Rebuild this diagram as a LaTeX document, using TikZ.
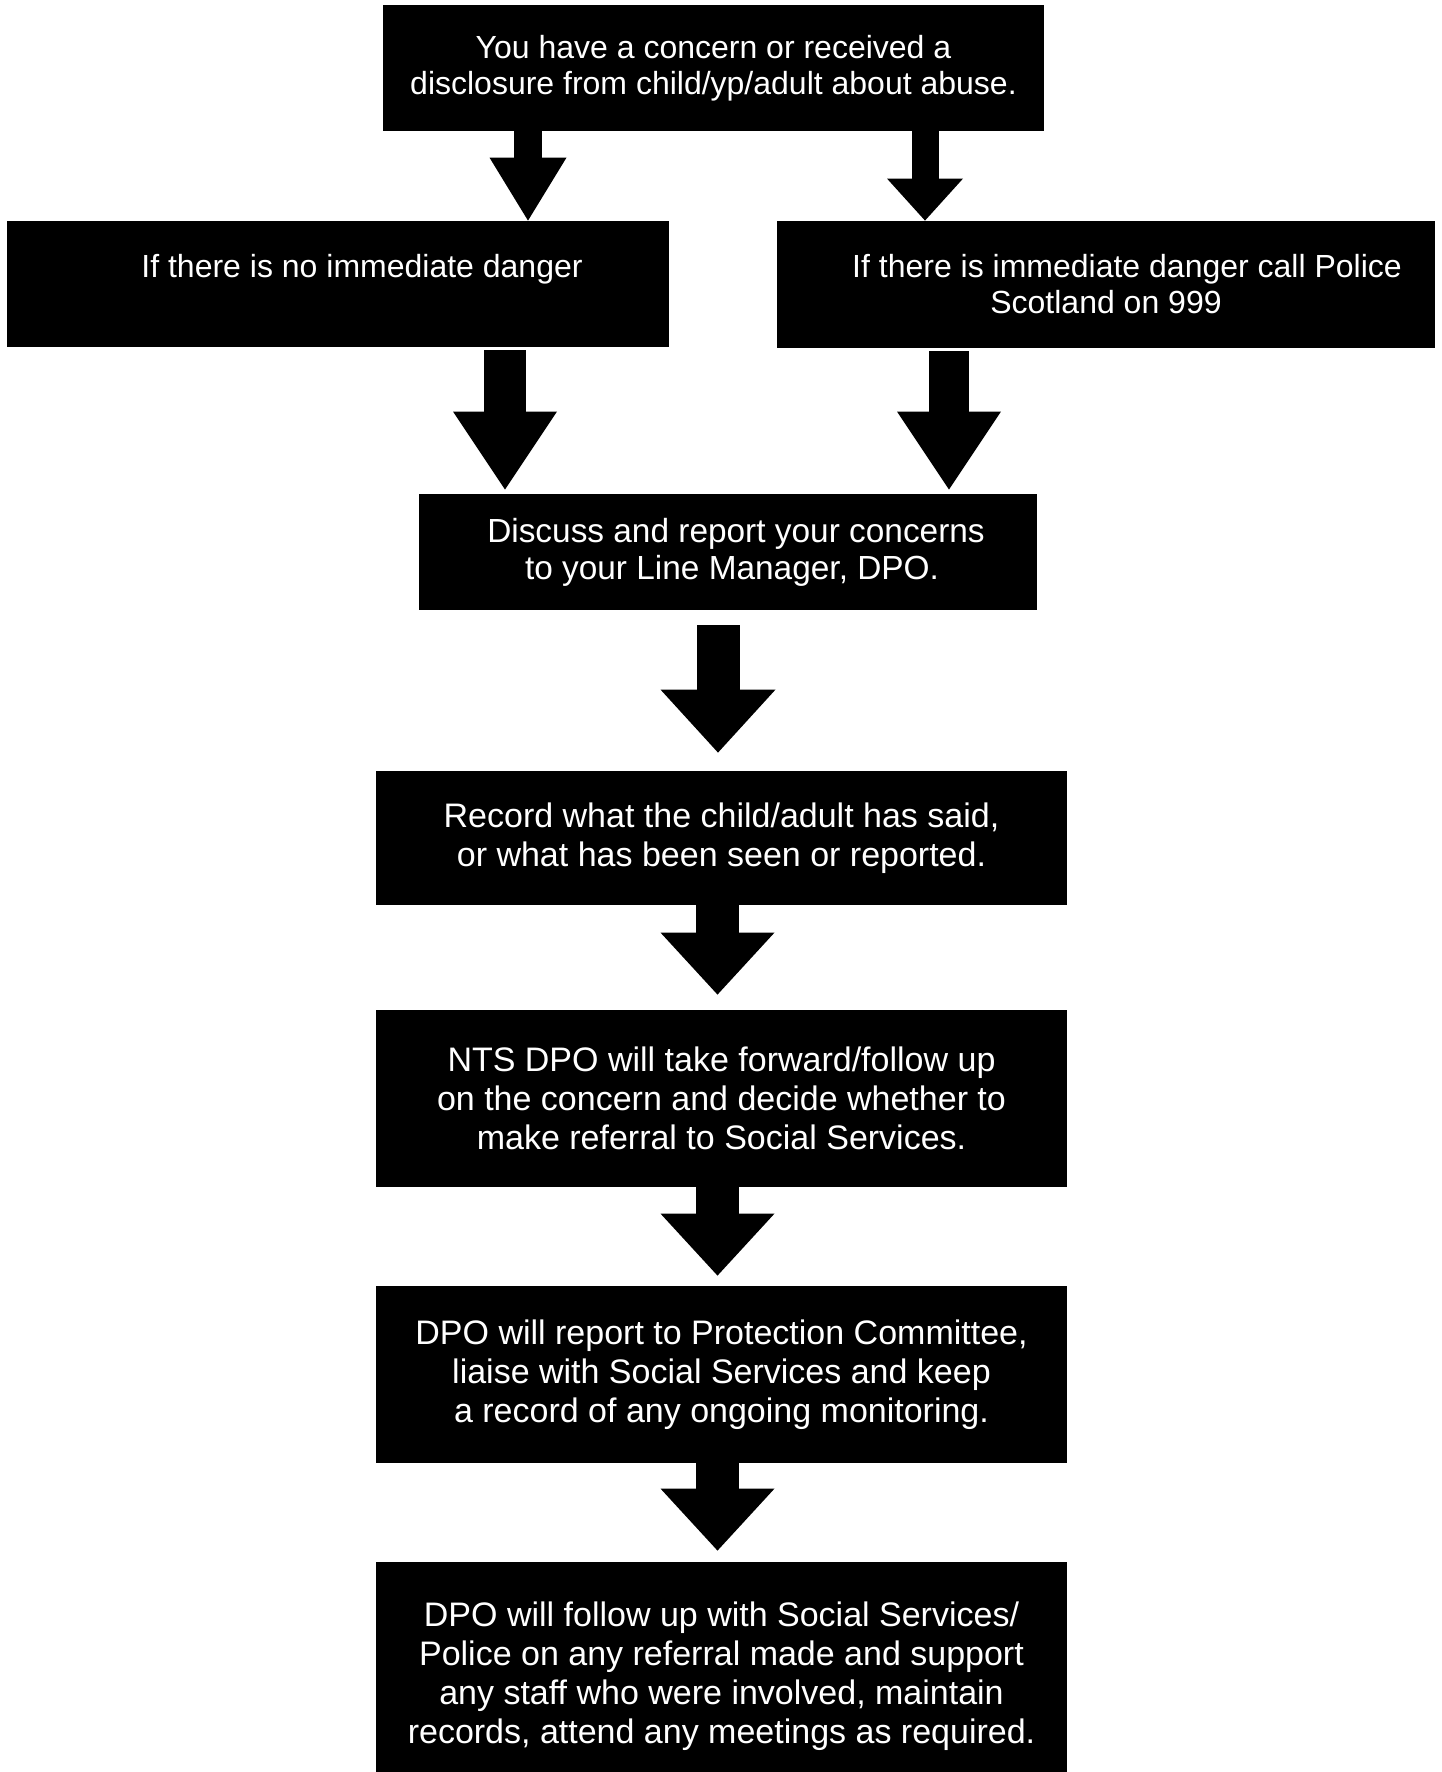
\documentclass[tikz,border=0pt]{standalone}
\usepackage{fontspec}
\setmainfont{Liberation Sans}
\usetikzlibrary{arrows.meta}

\tikzset{
  box/.style={fill=black, text=white, inner sep=0pt, align=center},
  smalltext/.style={font=\fontsize{16pt}{18pt}\selectfont},
  midtext/.style={font=\fontsize{16.7pt}{18.6pt}\selectfont},
  bigtext/.style={font=\fontsize{17pt}{19.4pt}\selectfont},
  blockarrow/.style n args={3}{line width=#1, -{Triangle[width=#2, length=#3, line width=0pt]}}
}

\begin{document}
\begin{tikzpicture}[x=0.5pt, y=-0.5pt]
    \useasboundingbox (0,0) rectangle (1441,1772);

    % boxes
    \node[box, smalltext, minimum width=330.5pt, minimum height=63pt] (concern) at (713.5,68)
        {You have a concern or received a\\disclosure from child/yp/adult about abuse.};
    \node[box, smalltext, minimum width=331pt, minimum height=63pt] (nodanger) at (338,284)
        {\hspace*{24pt}If there is no immediate danger\\\mbox{}};
    \node[box, smalltext, minimum width=329pt, minimum height=63.5pt] (danger) at (1106,284.5)
        {\hspace*{21pt}If there is immediate danger call Police\\Scotland on 999};
    \node[box, midtext, minimum width=309pt, minimum height=58pt] (discuss) at (728,552)
        {\hspace*{8pt}Discuss and report your concerns\\\hspace*{4pt}to your Line Manager, DPO.};
    \node[box, bigtext, minimum width=345.5pt, minimum height=67pt] (record) at (721.5,838)
        {Record what the child/adult has said,\\or what has been seen or reported.};
    \node[box, bigtext, minimum width=345.5pt, minimum height=88.5pt] (followup) at (721.5,1098.5)
        {NTS DPO will take forward/follow up\\on the concern and decide whether to\\make referral to Social Services.};
    \node[box, bigtext, minimum width=345.5pt, minimum height=88.5pt] (committee) at (721.5,1374.5)
        {DPO will report to Protection Committee,\\liaise with Social Services and keep\\a record of any ongoing monitoring.};
    \node[box, bigtext, minimum width=345.5pt, minimum height=114pt] (referral) at (721.5,1676)
        {DPO will follow up with Social Services/\\Police on any referral made and support\\any staff who were involved, maintain\\records, attend any meetings as required.};

    % arrows
    \draw[blockarrow={14pt}{38.5pt}{31.5pt}] (concern.south -| 528,0) -- (nodanger.north -| 528,0);
    \draw[blockarrow={13.5pt}{38pt}{21pt}] (concern.south -| 925,0) -- (danger.north -| 925,0);
    \draw[blockarrow={21pt}{52pt}{39pt}, shorten <=1.5pt, shorten >=2pt] (nodanger.south -| 505,0) -- (discuss.north -| 505,0);
    \draw[blockarrow={20pt}{52pt}{39pt}, shorten <=1.5pt, shorten >=2pt] (danger.south -| 949,0) -- (discuss.north -| 949,0);
    \draw[blockarrow={21.5pt}{57.5pt}{31.5pt}, shorten <=7.5pt, shorten >=9pt] (discuss.south -| 718,0) -- (record.north -| 718,0);
    \draw[blockarrow={21.5pt}{57pt}{31pt}, shorten >=7.5pt] (record.south -| 717.5,0) -- (followup.north -| 717.5,0);
    \draw[blockarrow={21.5pt}{57pt}{31pt}, shorten >=5pt] (followup.south -| 717.5,0) -- (committee.north -| 717.5,0);
    \draw[blockarrow={21.5pt}{57pt}{31pt}, shorten >=5.5pt] (committee.south -| 717.5,0) -- (referral.north -| 717.5,0);
\end{tikzpicture}
\end{document}
